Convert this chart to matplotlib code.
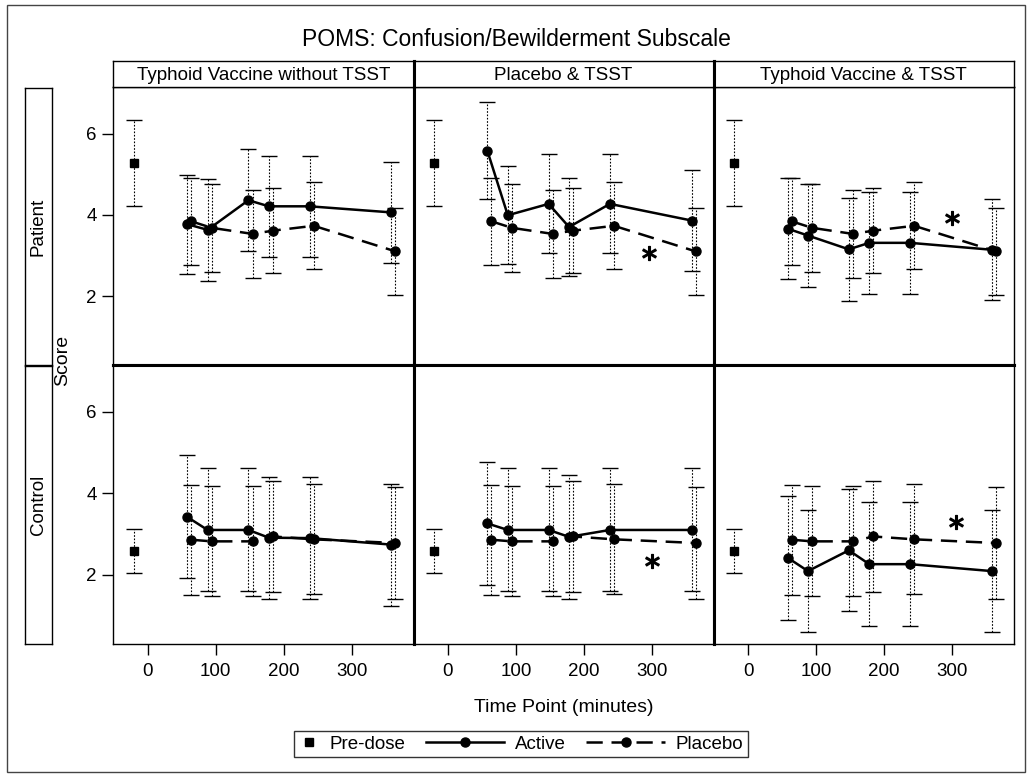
import matplotlib
matplotlib.use("Agg")
import matplotlib.pyplot as plt
from matplotlib.lines import Line2D
from matplotlib.patches import Rectangle
from matplotlib.legend_handler import HandlerLine2D

plt.rcParams['font.family'] = ['Liberation Sans', 'DejaVu Sans']

# ---------------- data ----------------
title = "POMS: Confusion/Bewilderment Subscale"
col_labels = ["Typhoid Vaccine without TSST", "Placebo & TSST", "Typhoid Vaccine & TSST"]
row_labels = ["Patient", "Control"]
x_label = "Time Point (minutes)"
y_label = "Score"
legend_labels = ["Pre-dose", "Active", "Placebo"]

time_points = [60, 90, 150, 180, 240, 360]
predose_time = -20
x_ticks = [0, 100, 200, 300]
y_ticks = [2, 4, 6]

patient_predose_mean = 5.28
patient_predose_se = 1.05
control_predose_mean = 2.58
control_predose_se = 0.54

patient_placebo_mean = [3.84, 3.68, 3.53, 3.61, 3.73, 3.10]
patient_placebo_se = [1.07, 1.08, 1.08, 1.05, 1.07, 1.07]
control_placebo_mean = [2.86, 2.82, 2.82, 2.94, 2.87, 2.78]
control_placebo_se = [1.35, 1.35, 1.35, 1.37, 1.35, 1.37]

patient_active_mean_vacc_no_tsst = [3.77, 3.63, 4.36, 4.21, 4.21, 4.06]
patient_active_se_vacc_no_tsst = [1.22, 1.25, 1.25, 1.24, 1.24, 1.25]
patient_active_mean_placebo_tsst = [5.58, 3.99, 4.27, 3.70, 4.27, 3.86]
patient_active_se_placebo_tsst = [1.20, 1.21, 1.22, 1.21, 1.22, 1.24]
patient_active_mean_vacc_tsst = [3.66, 3.49, 3.15, 3.31, 3.31, 3.14]
patient_active_se_vacc_tsst = [1.25, 1.27, 1.27, 1.25, 1.26, 1.25]

control_active_mean_vacc_no_tsst = [3.42, 3.10, 3.10, 2.91, 2.90, 2.74]
control_active_se_vacc_no_tsst = [1.51, 1.51, 1.51, 1.50, 1.49, 1.50]
control_active_mean_placebo_tsst = [3.26, 3.10, 3.10, 2.93, 3.10, 3.10]
control_active_se_placebo_tsst = [1.52, 1.51, 1.51, 1.52, 1.51, 1.51]
control_active_mean_vacc_tsst = [2.42, 2.09, 2.60, 2.26, 2.26, 2.09]
control_active_se_vacc_tsst = [1.52, 1.50, 1.50, 1.52, 1.52, 1.50]

# significance markers (time, score) per column; None = no marker
patient_star_x = [None, 295, 300]
patient_star_y = [None, 3.05, 3.92]
control_star_x = [None, 300, 305]
control_star_y = [None, 2.35, 3.29]

# ---------------- styling / layout ----------------
W, H = 1032, 776
ACTIVE_DODGE = -2
PLACEBO_DODGE = 4
X_LIM = (-50.5, 390.5)
Y_LIM = (0.3, 7.15)
FS = 13.5

fig = plt.figure(figsize=(W / 100, H / 100), dpi=100)

panel_left = 113.3
col_w = 300.2
row_px = [(87, 365), (365, 644)]
strip_px = (61, 87)
row_strip_x = (25, 51.5)

data = {
    ("Patient", 0): (patient_active_mean_vacc_no_tsst, patient_active_se_vacc_no_tsst),
    ("Patient", 1): (patient_active_mean_placebo_tsst, patient_active_se_placebo_tsst),
    ("Patient", 2): (patient_active_mean_vacc_tsst, patient_active_se_vacc_tsst),
    ("Control", 0): (control_active_mean_vacc_no_tsst, control_active_se_vacc_no_tsst),
    ("Control", 1): (control_active_mean_placebo_tsst, control_active_se_placebo_tsst),
    ("Control", 2): (control_active_mean_vacc_tsst, control_active_se_vacc_tsst),
}
placebo = {"Patient": (patient_placebo_mean, patient_placebo_se),
           "Control": (control_placebo_mean, control_placebo_se)}
predose = {"Patient": (patient_predose_mean, patient_predose_se),
           "Control": (control_predose_mean, control_predose_se)}
stars = {"Patient": (patient_star_x, patient_star_y),
         "Control": (control_star_x, control_star_y)}


def fig_rect(x0, y0, x1, y1):
    return [x0 / W, 1 - y1 / H, (x1 - x0) / W, (y1 - y0) / H]


def errbars(ax, x, y, se):
    eb = ax.errorbar(x, y, yerr=se, fmt='none', ecolor='black',
                     elinewidth=0.8, capsize=5.5, capthick=1.0, zorder=2)
    eb.lines[2][0].set_linestyle((0, (1.5, 1.5)))


for r, row in enumerate(row_labels):
    top, bot = row_px[r]
    for c in range(3):
        x0 = panel_left + c * col_w
        ax = fig.add_axes(fig_rect(x0, top, x0 + col_w, bot))
        ax.set_xlim(*X_LIM)
        ax.set_ylim(*Y_LIM)

        pm, pse = predose[row]
        errbars(ax, [predose_time], [pm], [pse])
        ax.plot([predose_time], [pm], 's', color='black', ms=6, zorder=3)

        am, ase = data[(row, c)]
        ax_x = [t + ACTIVE_DODGE for t in time_points]
        errbars(ax, ax_x, am, ase)
        ax.plot(ax_x, am, '-', color='black', lw=1.8, marker='o', ms=6.5, zorder=4)

        plm, plse = placebo[row]
        pl_x = [t + PLACEBO_DODGE for t in time_points]
        errbars(ax, pl_x, plm, plse)
        ax.plot(pl_x, plm, color='black', lw=1.8, ls=(0, (6.5, 3.5)), marker='o', ms=6.5, zorder=4)

        sx, sy = stars[row]
        if sx[c] is not None:
            ax.plot([sx[c]], [sy[c]], marker='$*$', color='black', ms=10, ls='none')

        # spines
        for side in ['left', 'right', 'top', 'bottom']:
            ax.spines[side].set_color('black')
            ax.spines[side].set_linewidth(1.0)
        if c > 0:
            ax.spines['left'].set_linewidth(2.2)
        if c < 2:
            ax.spines['right'].set_linewidth(2.2)
        if r == 0:
            ax.spines['bottom'].set_linewidth(2.2)
        else:
            ax.spines['top'].set_linewidth(2.2)

        ax.tick_params(direction='out', length=8, width=1.0, labelsize=FS, pad=4, color='black')
        if c == 0:
            ax.set_yticks(y_ticks)
            ax.set_yticklabels([str(v) for v in y_ticks])
        else:
            ax.set_yticks([])
        if r == 1:
            ax.set_xticks(x_ticks)
            ax.set_xticklabels([str(v) for v in x_ticks])
            ax.tick_params(axis='x', pad=6)
        else:
            ax.set_xticks([])

    # row strip
    sax = fig.add_axes(fig_rect(row_strip_x[0], top + 1, row_strip_x[1], bot))
    sax.set_xticks([]); sax.set_yticks([])
    for s in sax.spines.values():
        s.set_linewidth(1.0)
    sax.text(0.5, 0.5, row, rotation=90, ha='center', va='center', fontsize=FS,
             transform=sax.transAxes)

# column strips
for c, lab in enumerate(col_labels):
    x0 = panel_left + c * col_w
    sax = fig.add_axes(fig_rect(x0, strip_px[0], x0 + col_w, strip_px[1]))
    sax.set_xticks([]); sax.set_yticks([])
    for s in sax.spines.values():
        s.set_linewidth(1.0)
    if c > 0:
        sax.spines['left'].set_linewidth(2.2)
    if c < 2:
        sax.spines['right'].set_linewidth(2.2)
    sax.text(0.5, 0.45, lab, ha='center', va='center', fontsize=FS, transform=sax.transAxes)

fig.text(516 / W, 1 - 40 / H, title, ha='center', va='center', fontsize=16.5)
fig.text(63 / W, 1 - 360 / H, y_label, rotation=90, ha='center', va='center', fontsize=14)
fig.text((panel_left + 1.5 * col_w) / W, 1 - 708 / H, x_label, ha='center', va='center', fontsize=14)

# legend
h_pre = Line2D([], [], ls='none', marker='s', color='black', ms=6)
h_act = Line2D([], [], ls='-', lw=1.8, marker='o', color='black', ms=6.5)
h_pla = Line2D([], [], ls=(0, (6.5, 3.5)), lw=1.8, marker='o', color='black', ms=6.5)


class NarrowHandler(HandlerLine2D):
    def legend_artist(self, legend, orig_handle, fontsize, handlebox):
        handlebox.width = handlebox.width * 0.25
        return super().legend_artist(legend, orig_handle, fontsize, handlebox)


leg = fig.legend([h_pre, h_act, h_pla], legend_labels, loc='center',
                 bbox_to_anchor=(521 / W, 1 - 744 / H), ncol=3, frameon=True,
                 fancybox=False, edgecolor='black', handlelength=4.2,
                 columnspacing=1.1, handletextpad=0.55, borderpad=0.25,
                 fontsize=FS, handler_map={h_pre: NarrowHandler()})
leg.get_frame().set_linewidth(1.0)

# outer frame
fig.patches.append(Rectangle((7 / W, 1 - 772 / H), (1025 - 7) / W, (772 - 5) / H,
                             transform=fig.transFigure, fill=False, lw=1.0,
                             edgecolor='#444444'))

fig.savefig("out.png", dpi=100)
